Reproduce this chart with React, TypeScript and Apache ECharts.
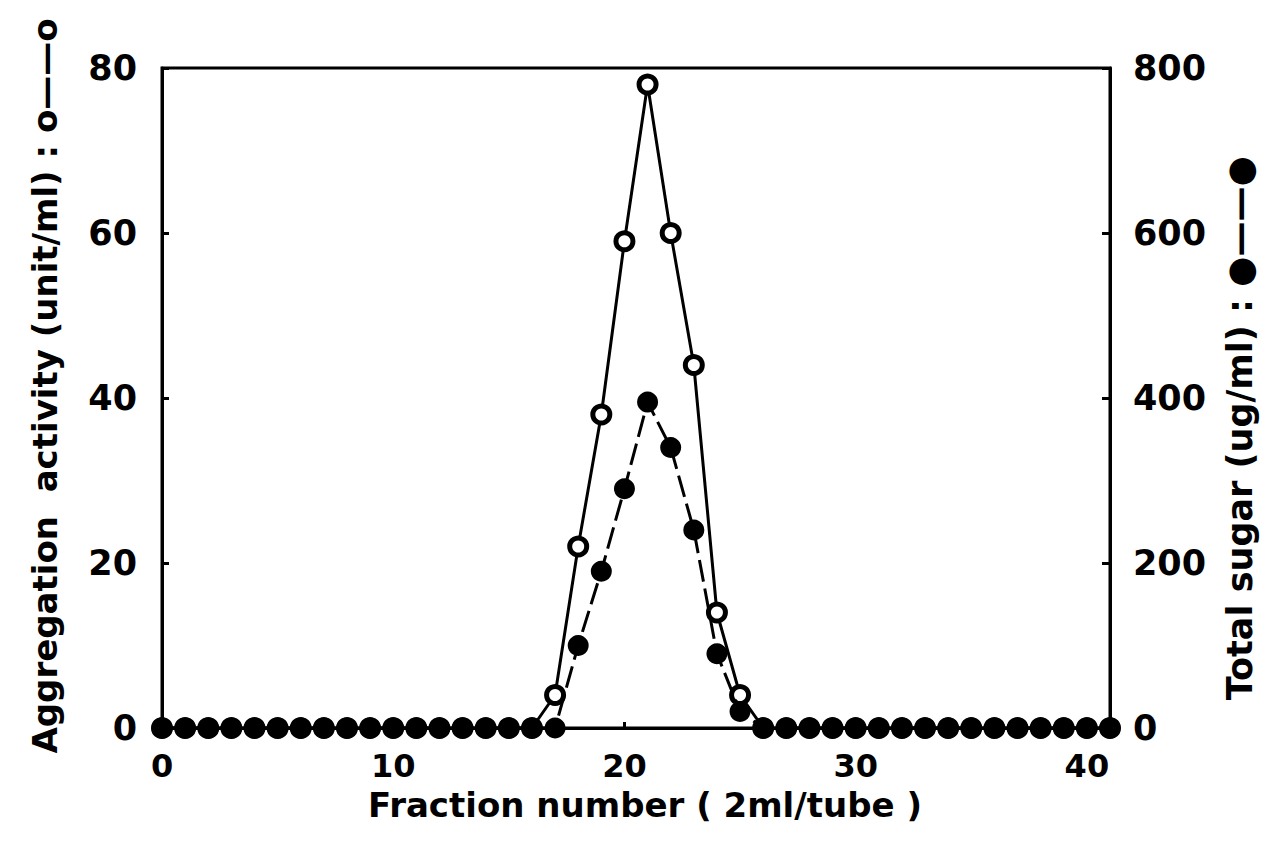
import React, { useEffect, useRef } from "react";
import * as echarts from "echarts";

const fractions = [0, 1, 2, 3, 4, 5, 6, 7, 8, 9, 10, 11, 12, 13, 14, 15, 16, 17, 18, 19, 20, 21, 22, 23, 24, 25, 26, 27, 28, 29, 30, 31, 32, 33, 34, 35, 36, 37, 38, 39, 40, 41];
const activity = [0, 0, 0, 0, 0, 0, 0, 0, 0, 0, 0, 0, 0, 0, 0, 0, 0, 4, 22, 38, 59, 78, 60, 44, 14, 4, 0, 0, 0, 0, 0, 0, 0, 0, 0, 0, 0, 0, 0, 0, 0, 0];
const sugar = [0, 0, 0, 0, 0, 0, 0, 0, 0, 0, 0, 0, 0, 0, 0, 0, 0, 0, 100, 190, 290, 395, 340, 240, 90, 20, 0, 0, 0, 0, 0, 0, 0, 0, 0, 0, 0, 0, 0, 0, 0, 0];
const xTicks = [0, 10, 20, 30, 40];
const xTitle = "Fraction number ( 2ml/tube )";
const leftTitle = "Aggregation  activity (unit/ml) : o——o";
const rightTitle = "Total sugar (ug/ml) : ●——●";

const FONT = "DejaVu Sans";

export default function App() {
  const ref = useRef<HTMLDivElement>(null);
  useEffect(() => {
    if (!ref.current) return;
    const chart = echarts.init(ref.current, null, { renderer: "svg" });
    const labelStyle = { color: "#000", fontFamily: FONT, fontWeight: "bold" as const, fontSize: 35 };
    chart.setOption({
      animation: false,
      backgroundColor: "#fff",
      grid: { left: 154, right: 166, top: 60, bottom: 105, show: true, borderColor: "#000", borderWidth: 3, backgroundColor: "transparent" },
      xAxis: {
        type: "value",
        min: 0,
        max: 41,
        interval: 10,
        axisLine: { lineStyle: { color: "#000", width: 3 } },
        axisTick: { inside: true, length: 6, lineStyle: { color: "#000", width: 3 } },
        splitLine: { show: false },
        axisLabel: {
          ...labelStyle,
          fontSize: 32,
          lineHeight: 30,
          margin: 23,
          showMaxLabel: false,
          formatter: (v: number) => (xTicks.includes(v) ? String(v) : ""),
        },
      },
      yAxis: [
        {
          type: "value",
          min: 0,
          max: 80,
          interval: 20,
          position: "left",
          axisLine: { show: true, lineStyle: { color: "#000", width: 3 } },
          axisTick: { show: true, inside: true, length: 7, lineStyle: { color: "#000", width: 3 } },
          splitLine: { show: false },
          axisLabel: { ...labelStyle, margin: 25 },
        },
        {
          type: "value",
          min: 0,
          max: 800,
          interval: 200,
          position: "right",
          axisLine: { show: true, lineStyle: { color: "#000", width: 3 } },
          axisTick: { show: true, inside: true, length: 8, lineStyle: { color: "#000", width: 3 } },
          splitLine: { show: false },
          axisLabel: { ...labelStyle, margin: 23 },
        },
      ],
      series: [
        {
          name: "Aggregation activity",
          type: "line",
          yAxisIndex: 0,
          data: fractions.map((f, i) => [f, activity[i]]),
          symbol: "circle",
          symbolSize: 17,
          showAllSymbol: true,
          lineStyle: { color: "#000", width: 3 },
          itemStyle: { color: "#fff", borderColor: "#000", borderWidth: 5 },
          z: 2,
        },
        {
          name: "Total sugar",
          type: "line",
          yAxisIndex: 1,
          data: fractions.map((f, i) => [f, sugar[i]]),
          symbol: "circle",
          symbolSize: 21,
          showAllSymbol: true,
          lineStyle: { color: "#000", width: 3, type: [22, 7] },
          itemStyle: { color: "#000", borderColor: "#000", borderWidth: 0 },
          z: 3,
        },
      ],
      graphic: [
        {
          type: "text",
          x: 637,
          y: 797,
          style: { text: xTitle, fill: "#000", font: `bold 34px "${FONT}"`, lineHeight: 32, textAlign: "center", textVerticalAlign: "middle" },
        },
        {
          type: "text",
          x: 37,
          y: 378,
          rotation: Math.PI / 2,
          style: { text: leftTitle, fill: "#000", font: `bold 34px "${FONT}"`, textAlign: "center", textVerticalAlign: "middle" },
        },
        {
          type: "text",
          x: 1232,
          y: 420,
          rotation: Math.PI / 2,
          style: { text: rightTitle, fill: "#000", font: `bold 35px "${FONT}"`, textAlign: "center", textVerticalAlign: "middle" },
        },
      ],
    });
    return () => chart.dispose();
  }, []);
  return <div ref={ref} style={{ width: 1268, height: 825 }} />;
}
